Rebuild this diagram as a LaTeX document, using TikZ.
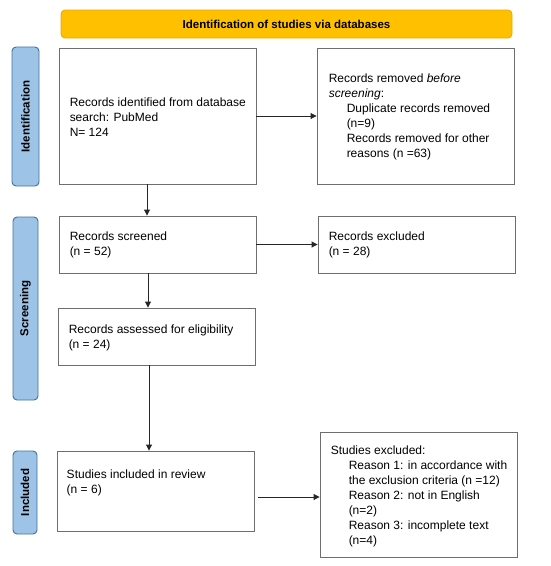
\documentclass[tikz,border=0pt]{standalone}
\usepackage{fontspec}
\setmainfont{Liberation Sans}
\usetikzlibrary{arrows.meta}
\definecolor{tabfill}{HTML}{9DC3E6}
\definecolor{tabline}{HTML}{41719C}
\definecolor{hdrfill}{HTML}{FFC000}
\definecolor{hdrline}{HTML}{E6A800}
\definecolor{boxline}{HTML}{6E6E6E}
\tikzset{
  box/.style={draw=boxline, line width=0.9pt, fill=white, inner sep=0pt},
  txt/.style={inner sep=0pt, anchor=west, align=left, font=\fontsize{12}{15}\selectfont},
  tab/.style={draw=tabline, fill=tabfill, line width=0.9pt, rounded corners=4pt, inner sep=0pt},
  tabtxt/.style={rotate=90, font=\bfseries\fontsize{11.5}{14}\selectfont, inner sep=0pt},
  arr/.style={draw=black!85, line width=0.9pt, -{Triangle[length=6pt,width=6pt]}}
}
\begin{document}
\begin{tikzpicture}[x=1pt,y=1pt]
\useasboundingbox (0,0) rectangle (550,-566);
% header
\node[draw=hdrline, fill=hdrfill, rounded corners=4pt, line width=0.8pt, minimum width=451pt, minimum height=28pt, inner sep=0pt,
  font=\bfseries\fontsize{11.5}{14}\selectfont] (hdr) at (286.5,-24) {Identification of studies via databases};
% side tabs
\node[tab, minimum width=27pt, minimum height=139pt] (tid) at (25.5,-116.5) {};
\node[tabtxt] (tidl) at (tid.center) {Identification};
\node[tab, minimum width=25pt, minimum height=183pt] (tsc) at (25.5,-308.5) {};
\node[tabtxt] (tscl) at (tsc.center) {Screening};
\node[tab, minimum width=24pt, minimum height=83pt] (tin) at (25,-492.5) {};
\node[tabtxt] (tinl) at (tin.center) {Included};
% boxes
\node[box, minimum width=197pt, minimum height=136pt] (b1) at (157.5,-116) {};
\node[txt] (b1t) at ([xshift=11pt,yshift=-1pt]b1.west) {Records identified from database\\search: PubMed\\N= 124};
\node[box, minimum width=197pt, minimum height=136pt] (b2) at (415.5,-116) {};
\node[txt] (b2t) at ([xshift=12pt,yshift=-1pt]b2.west) {Records removed \textit{before}\\\textit{screening}:\\\hspace*{18pt}Duplicate records removed\\\hspace*{18pt}(n=9)\\\hspace*{18pt}Records removed for other\\\hspace*{18pt}reasons (n =63)};
\node[box, minimum width=197pt, minimum height=57pt] (scr) at (157.5,-244.5) {};
\node[txt] (scrt) at ([xshift=11pt,yshift=-0.5pt]scr.west) {Records screened\\(n = 52)};
\node[box, minimum width=197pt, minimum height=57pt] (exc) at (416.5,-244.5) {};
\node[txt] (exct) at ([xshift=11pt,yshift=-0.5pt]exc.west) {Records excluded\\(n = 28)};
\node[box, minimum width=197pt, minimum height=57pt] (ass) at (156.5,-336.5) {};
\node[txt] (asst) at ([xshift=11pt,yshift=-1pt]ass.west) {Records assessed for eligibility\\(n = 24)};
\node[box, minimum width=197pt, minimum height=80pt] (inc) at (155.5,-491) {};
\node[txt] (inct) at ([xshift=10pt,yshift=8pt]inc.west) {Studies included in review\\(n = 6)};
\node[box, minimum width=197pt, minimum height=125pt] (ex2) at (418.5,-494.5) {};
\node[txt] (ex2t) at ([xshift=11pt,yshift=-2pt]ex2.west) {Studies excluded:\\\hspace*{18pt}Reason 1: in accordance with\\\hspace*{18pt}the exclusion criteria (n =12)\\\hspace*{18pt}Reason 2: not in English\\\hspace*{18pt}(n=2)\\\hspace*{18pt}Reason 3: incomplete text\\\hspace*{18pt}(n=4)};
% connectors
\draw[arr] (b1.east) -- (b2.west);
\draw[arr] (scr.east) -- (exc.west);
\coordinate (d1) at ([xshift=-10.5pt]b1.south);
\draw[arr] (d1) -- (d1 |- scr.north);
\coordinate (d2) at ([xshift=-9.5pt]scr.south);
\draw[arr] (d2) -- (d2 |- ass.north);
\coordinate (d3) at ([xshift=-7.5pt]ass.south);
\draw[arr] (d3) -- (d3 |- inc.north);
\coordinate (a3) at ([xshift=4pt,yshift=-6pt]inc.east);
\draw[arr] (a3) -- (a3 -| ex2.west);
\end{tikzpicture}
\end{document}
